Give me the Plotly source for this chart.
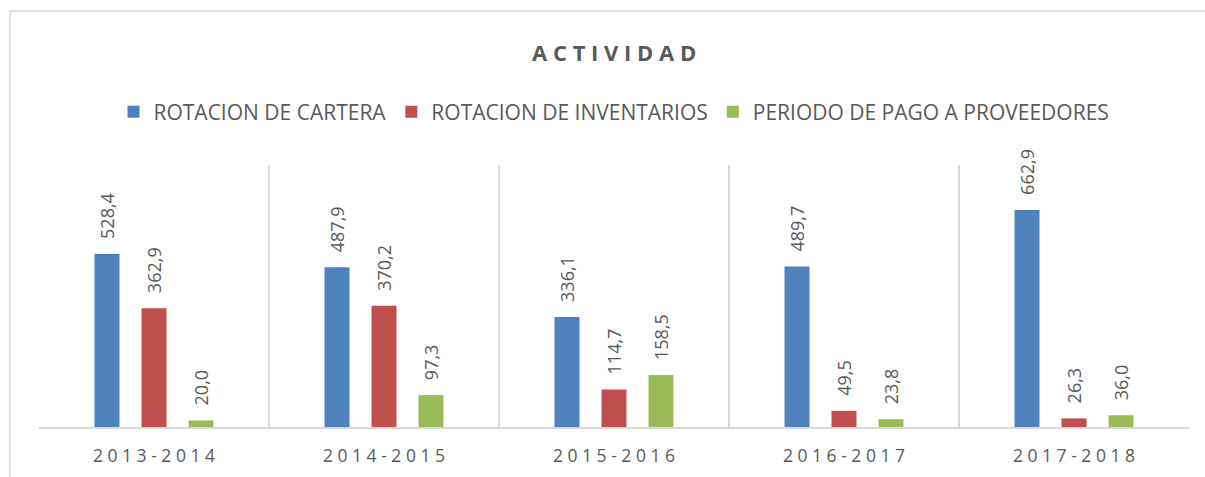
import plotly.graph_objects as go

periods = ["2013-2014", "2014-2015", "2015-2016", "2016-2017", "2017-2018"]
rotacion_cartera = [528.4, 487.9, 336.1, 489.7, 662.9]
rotacion_inventarios = [362.9, 370.2, 114.7, 49.5, 26.3]
periodo_pago = [20.0, 97.3, 158.5, 23.8, 36.0]
series_names = ["ROTACION DE CARTERA", "ROTACION DE INVENTARIOS", "PERIODO DE PAGO A PROVEEDORES"]
series_colors = ["#4F81BD", "#C0504D", "#9BBB59"]
title_text = "ACTIVIDAD"

GRAY = "#595959"
LINE = "#D9D9D9"
FONT = "Open Sans"
BARGAP = 0.387
BARGROUPGAP = 0.468

W, H = 1205, 477
ML, MR, MT, MB = 39, 16, 165, 50
pw = W - ML - MR
ph = H - MT - MB


def spaced(s):
    return " ".join(list(s))


def py(pixel_y):
    return (H - MB - pixel_y) / ph


def px(pixel_x):
    return (pixel_x - ML) / pw


fig = go.Figure()
all_series = [rotacion_cartera, rotacion_inventarios, periodo_pago]
xs = list(range(len(periods)))
for name, vals, col in zip(series_names, all_series, series_colors):
    fig.add_trace(go.Bar(x=xs, y=vals, name=name, marker=dict(color=col, line=dict(width=0)),
                         hoverinfo="y"))

# rotated value labels above bars
n = len(all_series)
slot = (1 - BARGAP) / n
annotations = []
for i, vals in enumerate(all_series):
    off = (i - (n - 1) / 2) * slot
    for j, v in enumerate(vals):
        annotations.append(dict(
            x=j + off, y=v, xref="x", yref="y",
            text=f"{v:.1f}".replace(".", ","),
            textangle=-90, showarrow=False,
            xanchor="center", yanchor="bottom", yshift=13,
            font=dict(family=FONT, size=18, color=GRAY),
        ))

annotations.append(dict(
    x=0.5, y=py(52), xref="paper", yref="paper", text=f"<b>{spaced(title_text)}</b>",
    showarrow=False, xanchor="center", yanchor="middle",
    font=dict(family=FONT, size=22, color=GRAY),
))

fig.update_layout(
    width=W, height=H,
    margin=dict(l=ML, r=MR, t=MT, b=MB, autoexpand=False),
    paper_bgcolor="white", plot_bgcolor="white",
    barmode="group", bargap=BARGAP, bargroupgap=BARGROUPGAP,
    showlegend=True,
    legend=dict(orientation="h", x=0.5, xanchor="center", y=py(112), yanchor="middle",
                font=dict(family=FONT, size=21, color=GRAY), itemclick=False, traceorder="normal"),
    annotations=annotations,
    shapes=[dict(type="rect", xref="paper", yref="paper",
                 x0=px(10), x1=px(W + 5), y0=py(H + 5), y1=py(11),
                 line=dict(color=LINE, width=1.5), fillcolor="rgba(0,0,0,0)", layer="below")],
    xaxis=dict(
        type="linear", range=[-0.5, len(periods) - 0.5],
        tickmode="array", tickvals=xs, ticktext=[spaced(p) for p in periods],
        showgrid=False, zeroline=False,
        showline=True, linecolor=LINE, linewidth=1.5,
        ticks="", ticklabelstandoff=12,
        tickfont=dict(family=FONT, size=17.5, color=GRAY),
        minor=dict(tickmode="array", tickvals=[k - 0.5 for k in range(len(periods) + 1)],
                   showgrid=True, gridcolor=LINE, gridwidth=1.5),
        fixedrange=True,
    ),
    yaxis=dict(range=[0, 800], showgrid=False, zeroline=False, showticklabels=False,
               showline=False, fixedrange=True),
)

fig.write_html("out.html", config={"displayModeBar": False},
               post_script="document.body.style.margin='0';")
